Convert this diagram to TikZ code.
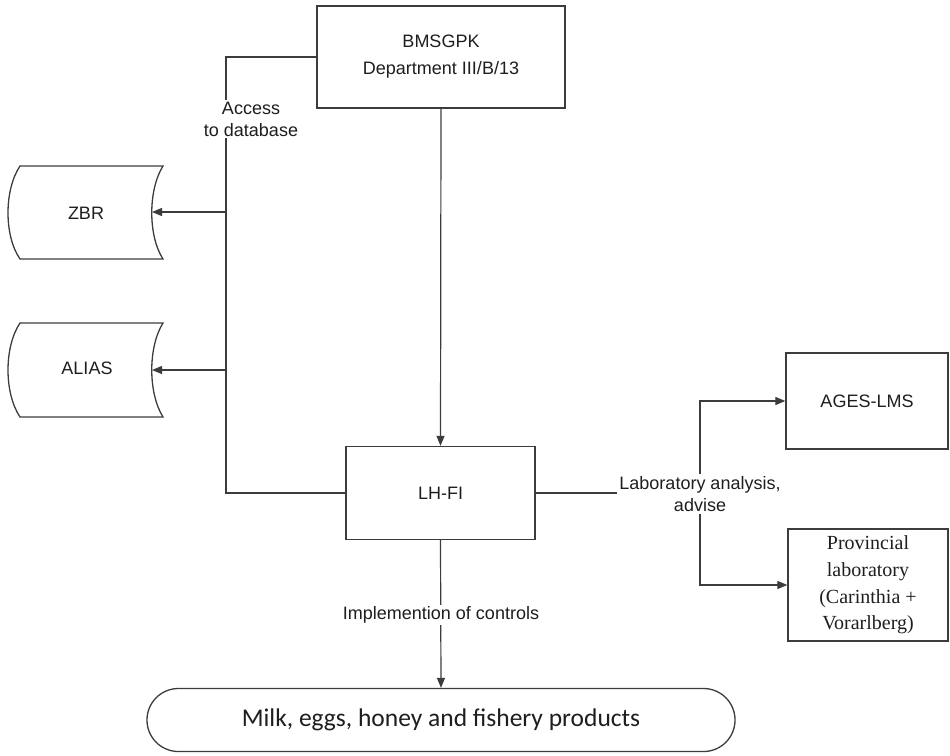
\documentclass[tikz,border=0pt]{standalone}
\usepackage{fontspec}
\setmainfont{Liberation Sans}
\newfontfamily\calfont{Carlito}
\newfontfamily\serfont{Liberation Serif}
\usetikzlibrary{arrows.meta,calc}
\definecolor{lc}{RGB}{60,60,60}
\definecolor{tc}{RGB}{30,30,30}
\begin{document}
\begin{tikzpicture}[x=1pt,y=-1pt,
  line/.style={draw=lc,line width=1.2pt},
  arr/.style={line,-{Triangle[length=10pt,width=8pt]}},
  box/.style={draw=lc,line width=1.3pt,text=tc,align=center,inner sep=0pt,
    font=\fontsize{18}{27}\selectfont},
  lbl/.style={fill=white,text=tc,align=center,inner sep=2pt,
    font=\fontsize{18}{22}\selectfont},
  store/.style={draw=lc,line width=1.3pt}]
\useasboundingbox (0,0) rectangle (950,755);

% boxes
\node[box,minimum width=248,minimum height=102] (bm) at (441,57) {BMSGPK\\Department III/B/13};
\node[box,minimum width=189,minimum height=93] (lh) at (440.5,493) {LH-FI};
\node[box,minimum width=162,minimum height=96] (ages) at (867,401) {AGES-LMS};
\node[box,minimum width=160,minimum height=112,font=\serfont\fontsize{20}{26.7}\selectfont] (prov) at (868,585)
  {Provincial\\laboratory\\(Carinthia +\\Vorarlberg)};
\node[draw=lc,line width=1.3pt,rounded corners=31.4,minimum width=588,minimum height=63,
  text=tc,font=\calfont\fontsize{25.5}{30}\selectfont] (milk) at (441,720)
  {\raisebox{3pt}{Milk, eggs, honey and fishery products}};

% stored-data shapes
\draw[store] (20,166) -- (163,166) .. controls (148,190) and (148,236) .. (163,259)
  -- (20,259) .. controls (4,236) and (4,190) .. cycle;
\node[text=tc,font=\fontsize{18}{22}\selectfont] (zbr) at (86,213) {ZBR};
\coordinate (zbrin) at (152,212);
\draw[store] (20,323) -- (163,323) .. controls (148,347) and (148,393) .. (163,417)
  -- (20,417) .. controls (4,393) and (4,347) .. cycle;
\node[text=tc,font=\fontsize{18}{22}\selectfont] (alias) at (87,368) {ALIAS};
\coordinate (aliasin) at (152,370);

% access line
\coordinate (j1) at (226,212);
\coordinate (j2) at (226,370);
\draw[line] (bm.west) -| (j1) |- (lh.west);
\draw[arr] (j1) -- (zbrin);
\draw[arr] (j2) -- (aliasin);
\node[lbl] (acc) at (251,119) {Access\\to database};

% BMSGPK to LH-FI
\draw[arr] (bm.south) -- (lh.north);

% lab analysis
\node[lbl,fill=none] (lab) at (700,494) {Laboratory analysis,\\advise};
\draw[line] (lh.east) -- (lh.east -| lab.west);
\draw[arr] (lab.north) |- (ages.west);
\draw[arr] (lab.south) |- (prov.west);

% controls
\draw[arr] (lh.south) -- (milk.north);
\node[lbl] (ctl) at (441,615) {Implemention of controls};
\end{tikzpicture}
\end{document}
